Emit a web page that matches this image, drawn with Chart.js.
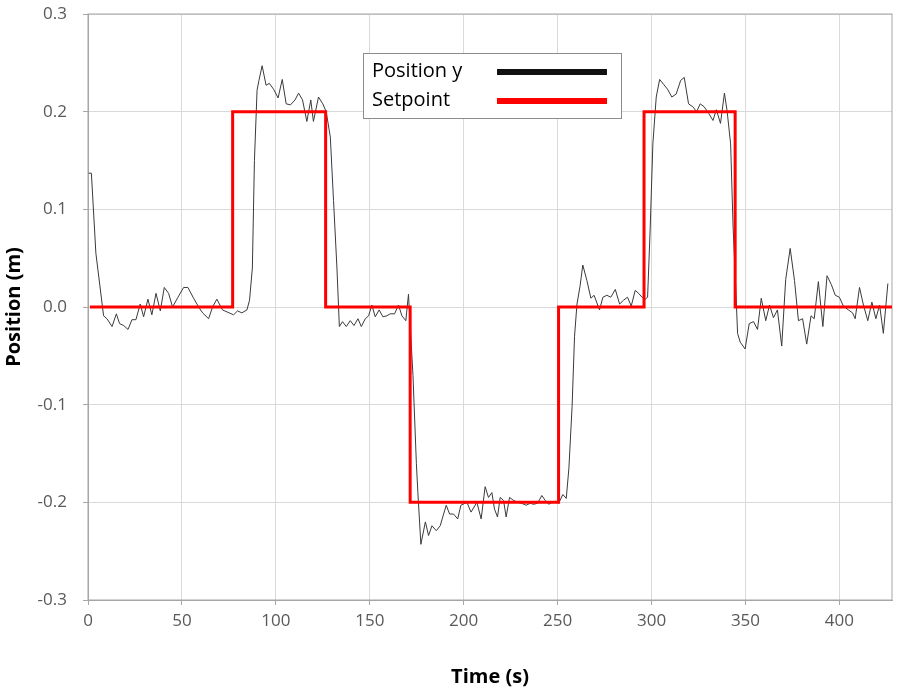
<!DOCTYPE html>
<html>
<head>
<meta charset="utf-8">
<script src="https://cdn.jsdelivr.net/npm/chart.js@4.4.1/dist/chart.umd.min.js"></script>
<style>
  html, body { margin: 0; padding: 0; background: #fff; }
</style>
</head>
<body>
<canvas id="chart" width="897" height="692"></canvas>
<script>
const timeS = [
  0.3, 1.8, 4.2, 8.3, 10.1, 12.8, 15.1, 16.8, 19.0, 21.3, 23.4, 25.5, 27.8, 29.6, 31.9, 34.0,
  36.2, 38.5, 40.6, 42.9, 45.0, 47.9, 50.9, 53.2, 56.2, 58.9, 61.0, 64.2, 66.3, 68.6, 71.6,
  77.5, 79.6, 81.9, 84.6, 86.0, 87.5, 88.6, 90.0, 91.0, 92.7, 94.8, 96.5, 98.8, 101.2, 103.4,
  105.5, 107.8, 110.2, 112.1, 114.2, 116.5, 118.6, 120.0, 122.7, 125.0, 126.8, 129.0, 130.7,
  132.5, 133.8, 135.5, 137.5, 139.6, 141.6, 143.7, 145.5, 147.6, 149.4, 151.1, 152.9, 155.0,
  157.0, 159.1, 160.9, 163.2, 165.3, 167.1, 169.2, 170.6, 173.0, 174.8, 175.6, 177.2, 179.6,
  181.3, 183.1, 185.4, 187.5, 189.3, 190.7, 192.5, 194.6, 196.8, 198.5, 201.7, 203.9, 207.0,
  209.3, 211.4, 213.2, 215.0, 216.4, 218.0, 219.4, 221.2, 222.6, 224.4, 226.5, 228.7, 230.9,
  233.2, 235.4, 237.2, 239.3, 241.6, 243.4, 245.2, 247.0, 248.8, 250.5, 252.8, 254.6, 256.0,
  257.7, 259.0, 260.3, 261.9, 263.4, 265.6, 267.7, 269.4, 272.3, 274.1, 276.2, 278.3, 280.7,
  283.0, 285.1, 287.2, 289.2, 291.3, 293.1, 294.9, 296.6, 297.9, 299.3, 300.7, 302.5, 304.3,
  306.4, 308.5, 310.8, 313.1, 315.5, 317.4, 319.7, 322.0, 324.0, 325.9, 328.0, 330.5, 332.7,
  334.5, 336.7, 338.8, 340.2, 342.1, 343.4, 344.6, 345.8, 347.2, 349.8, 352.0, 354.3, 356.4,
  358.4, 360.8, 362.8, 364.9, 367.0, 369.3, 371.4, 373.8, 376.1, 378.2, 380.4, 382.6, 384.9,
  386.6, 388.8, 391.2, 393.4, 395.7, 397.8, 400.0, 402.1, 404.8, 407.0, 408.4, 410.7, 412.8,
  415.1, 417.3, 419.4, 421.4, 423.4, 425.8
];
const positionY = [
  0.137, 0.137, 0.055, -0.009, -0.012, -0.020, -0.007, -0.017, -0.019, -0.023, -0.013, -0.013,
  0.003, -0.010, 0.008, -0.008, 0.014, -0.004, 0.020, 0.014, 0.000, 0.010, 0.020, 0.020, 0.009,
  0.000, -0.006, -0.012, 0.000, 0.008, -0.003,
  -0.008, -0.004, -0.006, -0.003, 0.007, 0.040, 0.150, 0.222, 0.232, 0.247, 0.227, 0.229, 0.223,
  0.214, 0.233, 0.208, 0.207, 0.212, 0.219, 0.212, 0.190, 0.212, 0.190, 0.215, 0.208, 0.200,
  0.174, 0.109, 0.041, -0.020, -0.015, -0.020, -0.014, -0.019, -0.012, -0.020, -0.012, -0.009,
  0.002, -0.010, -0.003, -0.010, -0.009, -0.007, -0.007, 0.002, -0.009, -0.014, 0.013, -0.070,
  -0.160, -0.190, -0.243, -0.220, -0.234, -0.224, -0.229, -0.224, -0.212, -0.203, -0.212, -0.212,
  -0.217, -0.203, -0.200, -0.210, -0.200, -0.217, -0.184, -0.195, -0.190, -0.207, -0.215, -0.195,
  -0.198, -0.215, -0.195, -0.198, -0.200, -0.201, -0.203, -0.201, -0.202, -0.201, -0.193, -0.198,
  -0.202, -0.200, -0.199, -0.201, -0.192, -0.196, -0.165, -0.102, -0.030, 0.003, 0.021, 0.043,
  0.027, 0.009, 0.012, -0.003, 0.010, 0.012, 0.010, 0.018, 0.003, 0.007, 0.010, 0.001, 0.017,
  0.014, 0.010, 0.008, 0.010, 0.082, 0.167, 0.215, 0.233, 0.228, 0.223, 0.215, 0.218, 0.232,
  0.235, 0.208, 0.205, 0.200, 0.208, 0.205, 0.198, 0.191, 0.202, 0.188, 0.219, 0.201, 0.167,
  0.082, 0.030, -0.027, -0.036, -0.043, -0.017, -0.015, -0.023, 0.009, -0.014, 0.002, -0.011,
  -0.003, -0.040, 0.028, 0.060, 0.027, -0.014, -0.012, -0.038, -0.009, -0.012, 0.026, -0.020,
  0.032, 0.023, 0.012, 0.010, 0.001, -0.003, -0.006, -0.012, 0.020, 0.002, -0.014, 0.005,
  -0.012, 0.002, -0.027, 0.024
];

// setpoint: each value holds from its time until the next one
const setpointTimes = [1, 77, 126.5, 171.5, 250.5, 296, 344.5, 428];
const setpointValues = [0, 0.2, 0, -0.2, 0, 0.2, 0, 0];

const xTicks = [0, 50, 100, 150, 200, 250, 300, 350, 400];
const yTicks = [-0.3, -0.2, -0.1, 0.0, 0.1, 0.2, 0.3];

const tickFont = { family: '"Open Sans", sans-serif', size: 17 };
const titleFont = { family: '"Open Sans", sans-serif', size: 20, weight: 'bold' };

function toPoints(xs, ys) {
  return xs.map((x, i) => ({ x: x, y: ys[i] }));
}

// outline round the plot area, under the lines
const frame = {
  id: 'frame',
  beforeDatasetsDraw(chart) {
    const a = chart.chartArea;
    const ctx = chart.ctx;
    ctx.save();
    ctx.strokeStyle = '#a6a6a6';
    ctx.lineWidth = 1;
    ctx.strokeRect(a.left, a.top, a.right - a.left, a.bottom - a.top);
    ctx.restore();
  }
};

// boxed legend: label on the left, line sample on the right
const boxLegend = {
  id: 'boxLegend',
  afterDraw(chart) {
    const ctx = chart.ctx;
    ctx.save();
    ctx.fillStyle = '#fff';
    ctx.fillRect(363, 53, 259, 65);
    ctx.strokeStyle = '#8c8c8c';
    ctx.lineWidth = 1;
    ctx.strokeRect(363.5, 53.5, 258, 65);
    ctx.font = '20px "Open Sans", sans-serif';
    ctx.textBaseline = 'middle';
    chart.data.datasets.forEach((ds, i) => {
      const y = 72 + i * 29;
      ctx.fillStyle = '#000';
      ctx.fillText(ds.label, 372, y - 1);
      ctx.strokeStyle = ds.legendColor;
      ctx.lineWidth = 6;
      ctx.beginPath();
      ctx.moveTo(497, y);
      ctx.lineTo(607, y);
      ctx.stroke();
    });
    ctx.restore();
  }
};

new Chart(document.getElementById('chart'), {
  type: 'line',
  data: {
    datasets: [
      {
        label: 'Position y',
        data: toPoints(timeS, positionY),
        borderColor: '#3a3a3a',
        legendColor: '#111',
        borderWidth: 1,
        pointRadius: 0,
        tension: 0,
        order: 1
      },
      {
        label: 'Setpoint',
        data: toPoints(setpointTimes, setpointValues),
        borderColor: '#ff0000',
        legendColor: '#ff0000',
        borderWidth: 3,
        pointRadius: 0,
        stepped: true,
        order: 0
      }
    ]
  },
  options: {
    responsive: false,
    animation: false,
    layout: { padding: { top: 14, right: 5, left: 0, bottom: 0 } },
    plugins: {
      legend: { display: false },
      tooltip: { enabled: false }
    },
    scales: {
      x: {
        type: 'linear',
        min: 0,
        max: 428,
        afterBuildTicks: s => { s.ticks = xTicks.map(v => ({ value: v })); },
        afterFit: s => { s.height = 92; s.paddingLeft = 0; s.paddingRight = 0; },
        ticks: { font: tickFont, color: '#595959', padding: 6, autoSkip: false, maxRotation: 0 },
        grid: { color: '#d9d9d9', tickLength: 5, tickColor: '#a6a6a6' },
        border: { color: '#a6a6a6' },
        title: { display: true, text: 'Time (s)', font: titleFont, color: '#000', padding: { top: 0, bottom: 3 } }
      },
      y: {
        min: -0.3,
        max: 0.3,
        afterBuildTicks: s => { s.ticks = yTicks.map(v => ({ value: v })); },
        afterFit: s => { s.width = 88; s.paddingTop = 0; s.paddingBottom = 0; },
        ticks: { font: tickFont, color: '#595959', padding: 16, autoSkip: false, callback: v => v.toFixed(1) },
        grid: { color: '#d9d9d9', tickLength: 5, tickColor: '#a6a6a6' },
        border: { color: '#a6a6a6' },
        title: { display: true, text: 'Position (m)', font: titleFont, color: '#000', padding: { top: 2, bottom: 0 } }
      }
    }
  },
  plugins: [frame, boxLegend]
});
</script>
</body>
</html>
